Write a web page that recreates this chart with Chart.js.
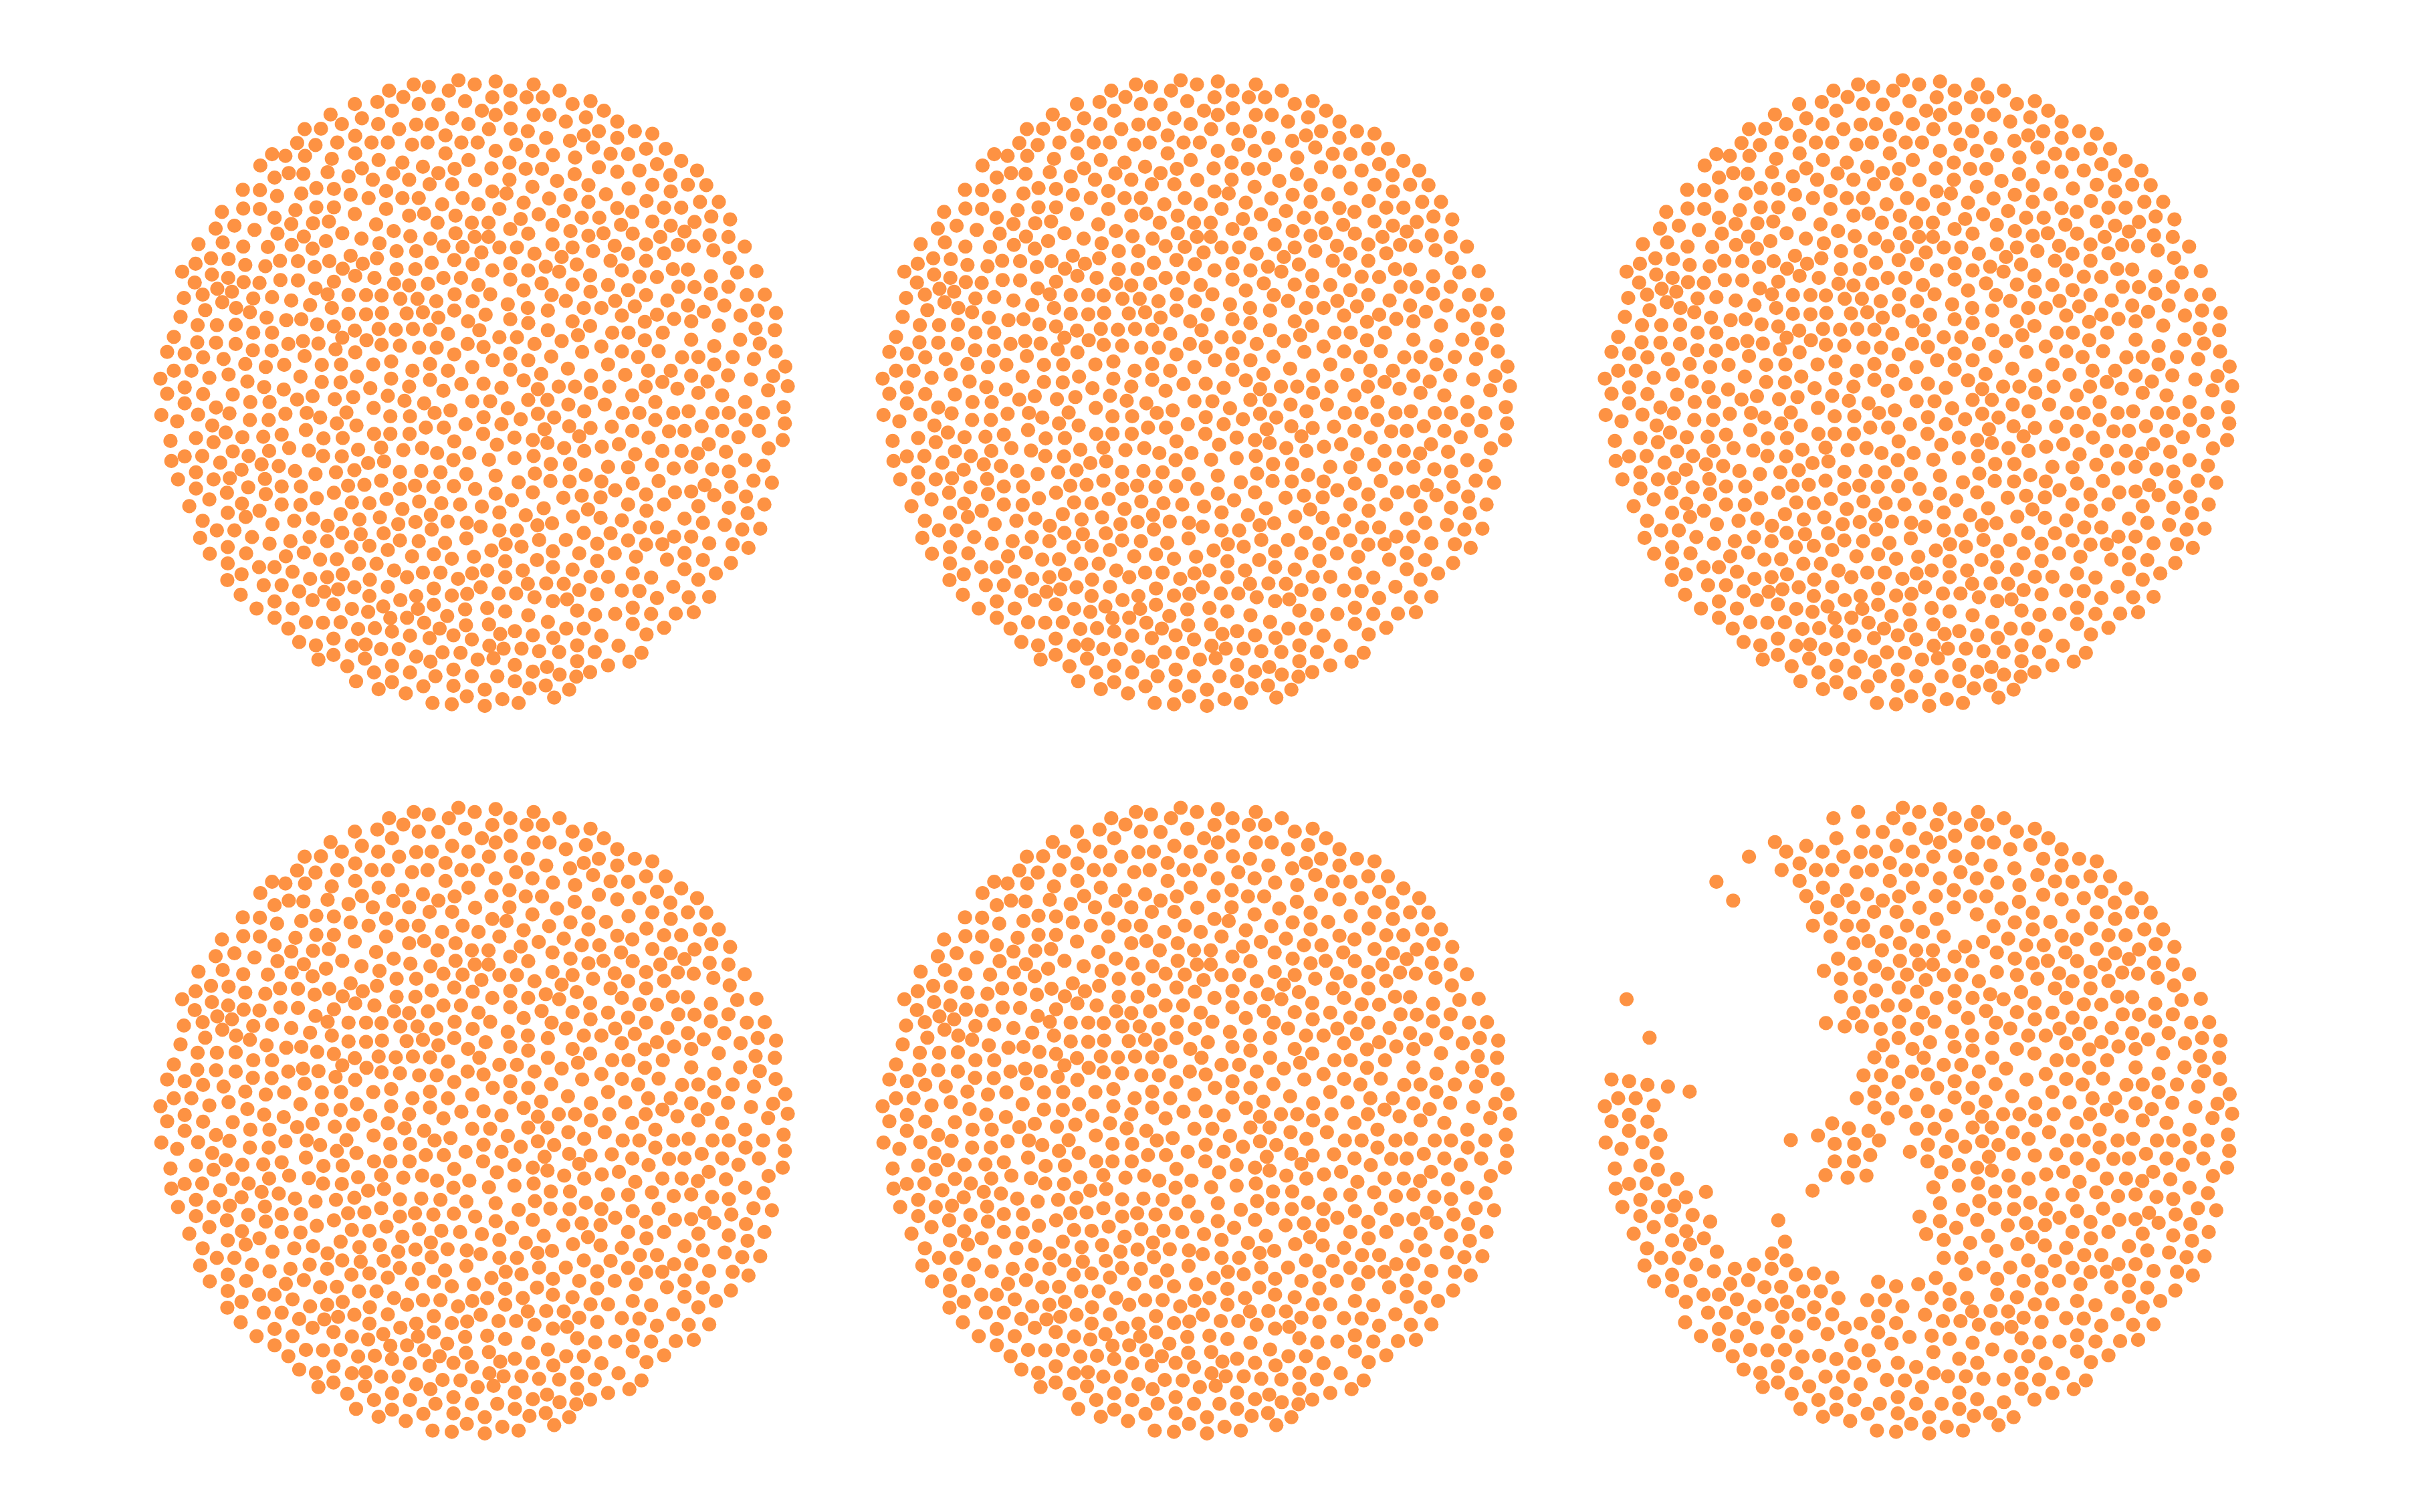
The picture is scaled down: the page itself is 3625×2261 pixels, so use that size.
<!DOCTYPE html>
<html>
<head>
<meta charset="utf-8">
<style>
html,body{margin:0;padding:0;background:#fff;width:3625px;height:2261px;overflow:hidden}
canvas{position:absolute}
</style>
<script src="https://cdn.jsdelivr.net/npm/chart.js@4/dist/chart.umd.min.js"></script>
</head>
<body>
<script>
// Points present in all six panels, read as x,y pairs from the picture.
const sharedDots = [
745,32,834,35,925,42,638,42,784,42,579,57,722,57,869,57,987,57,826,73,908,73,947,73,1061,82,650,89,697,90,761,82,1018,89,586,105,801,105,870,99,1093,105,834,115,925,115,963,115,439,114,514,123,730,123,1050,121,1125,131,466,137,553,137,644,138,681,137,769,137,1002,131,377,149,603,149,818,149,870,148,911,154,1167,154,1209,160,1081,154,498,165,714,164,955,170,1125,170,
455,181,537,181,576,181,634,186,671,181,752,181,791,181,1012,177,883,186,1067,193,1194,196,1241,196,834,201,922,201,498,207,714,207,299,209,971,211,1109,208,1151,209,1024,217,554,223,769,223,611,229,867,229,1278,225,660,239,1220,233,514,243,736,244,824,243,906,244,945,244,1081,240,1125,251,1178,248,1316,248,339,254,589,255,697,254,1023,257,1252,259,
627,270,785,271,867,270,981,273,540,270,676,281,730,281,1056,283,1209,282,1294,282,1338,283,922,287,1152,291,572,297,826,298,1253,298,1013,306,1098,305,530,314,611,314,650,314,755,314,962,315,1195,321,1056,323,1323,323,1368,323,706,329,793,329,572,340,843,340,1125,338,1237,337,1278,337,1161,347,997,345,627,356,663,351,738,356,937,353,1040,361,1082,361,1350,358,894,364,1395,365,
695,373,777,373,817,373,1209,370,1310,371,970,378,1134,378,1253,380,869,388,590,393,1013,393,1286,394,738,398,912,399,1056,404,1092,398,1162,399,1346,403,1391,407,630,405,784,407,817,407,678,411,1228,407,556,422,709,429,755,431,843,432,885,432,970,425,1018,432,1119,428,1194,425,1270,426,1308,429,1430,430,597,441,644,441,800,444,1067,441,1355,439,1151,447,1237,446,927,447,
1394,457,735,462,681,469,779,472,869,470,1194,464,1109,464,1028,473,954,478,597,484,642,484,826,487,912,487,1136,487,1258,484,1294,485,986,490,1458,489,84,490,1412,492,1060,499,1349,501,709,505,751,505,1178,502,1220,503,869,509,627,523,672,519,793,522,944,518,1018,521,1103,522,1271,526,1310,527,1391,526,901,535,1061,538,1151,534,
561,547,736,544,821,544,968,546,1194,546,1349,543,1435,546,1478,545,606,555,647,555,692,561,1002,560,779,561,1120,560,1245,559,863,568,911,577,1167,573,1294,571,1381,571,139,582,735,583,959,583,1045,577,1087,577,1461,583,810,593,1136,595,1220,593,1332,586,1505,589,697,600,1420,595,869,604,1261,603,768,609,912,613,1018,609,1191,610,1302,609,1060,620,1368,619,
677,629,795,630,959,630,1456,626,1502,630,720,639,1113,636,1152,636,1234,636,843,647,885,647,1191,654,1302,653,1419,653,767,663,992,656,927,663,1466,662,805,670,1357,668,651,672,693,672,1087,669,1136,681,1224,680,1041,682,48,682,1504,681,90,686,735,688,869,686,134,695,1175,694,1280,695,1319,694,183,699,967,693,1401,694,912,702,1452,699,827,702,
235,711,677,711,1103,712,1357,712,778,718,1527,717,1007,722,64,727,106,727,635,727,720,727,869,725,1199,727,1253,727,943,735,1144,737,1302,739,1390,738,149,744,32,746,1062,739,1498,740,677,749,901,750,1233,754,1341,753,1445,748,752,759,805,758,985,765,1024,765,1106,765,1193,765,90,767,848,768,1533,764,1269,770,935,771,1486,774,709,775,1062,780,48,782,134,783,1319,780,1161,786,1376,786,576,787,
912,797,958,797,616,799,821,800,778,800,1216,802,90,805,1431,802,663,805,1008,808,1095,808,1523,814,165,815,542,816,863,817,1046,824,1138,828,1178,828,1296,824,1259,828,1353,828,1392,828,1474,828,477,827,122,832,34,833,688,828,935,830,582,836,629,836,974,839,805,838,1216,845,1432,845,894,843,72,848,848,855,1526,853,762,855,156,858,1010,860,1061,864,1112,861,951,867,667,863,1327,860,1161,871,1249,872,1286,871,1376,871,1464,871,
582,878,628,878,804,878,1415,886,117,888,879,887,1200,887,923,893,1521,893,56,895,159,898,958,900,1344,903,837,904,1129,903,1088,909,560,911,658,912,998,912,1279,919,205,920,613,917,1046,919,1233,919,1487,913,1385,921,1318,925,1168,927,90,932,132,931,925,931,879,936,1431,941,58,943,818,940,529,948,175,947,274,951,966,950,1012,950,1103,957,1151,958,1208,952,1302,957,1475,954,1260,961,1352,963,226,964,1392,968,117,970,928,973,1050,977,834,978,
74,987,198,984,159,987,965,991,1011,992,1087,992,1451,990,1224,991,889,994,1495,995,1162,997,242,1006,1334,1001,1398,1005,117,1009,785,1010,1120,1013,191,1019,923,1018,447,1019,1302,1016,1263,1018,834,1021,284,1022,1194,1023,1357,1025,996,1031,1040,1026,1085,1030,1433,1028,149,1035,873,1037,227,1045,1151,1047,1237,1047,1477,1047,101,1051,801,1052,1319,1051,1392,1055,949,1056,1055,1059,269,1062,1195,1062,193,1067,843,1066,1437,1068,463,1070,906,1073,1019,1076,236,1077,1085,1079,1286,1081,
133,1086,1136,1085,300,1094,1330,1091,969,1092,432,1098,1382,1096,1179,1102,1220,1102,1467,1105,843,1109,885,1109,167,1109,209,1109,1424,1107,467,1115,1045,1115,1109,1116,251,1125,389,1125,127,1127,1261,1124,1302,1124,343,1135,431,1135,938,1132,1002,1132,1151,1133,293,1141,1345,1140,1077,1141,489,1149,532,1146,1194,1143,1233,1142,1401,1142,193,1149,896,1148,1439,1151,576,1156,824,1157,971,1159,150,1165,237,1164,375,1162,1034,1164,1119,1164,1286,1163,332,1171,686,1166,782,1172,1170,1172,729,1177,414,1179,454,1178,857,1183,1077,1182,1244,1179,1330,1180,193,1188,507,1189,549,1189,1397,1187,
268,1197,305,1197,971,1197,1018,1203,1286,1202,591,1205,814,1205,899,1205,348,1208,702,1210,660,1210,468,1214,1162,1212,1361,1212,226,1214,431,1221,857,1221,1061,1220,1103,1220,1206,1222,390,1225,533,1227,744,1225,1319,1227,911,1237,955,1236,997,1237,279,1240,322,1240,576,1244,496,1245,798,1245,1259,1244,457,1250,686,1248,1034,1252,1136,1253,1178,1254,364,1255,224,1263,841,1260,883,1260,1077,1262,532,1266,644,1266,729,1265,1345,1268,1296,1269,927,1269,1220,1271,1005,1274,971,1278,606,1276,305,1279,396,1276,686,1287,446,1286,
1162,1294,1029,1301,262,1296,348,1296,565,1291,490,1297,761,1298,814,1295,857,1303,1120,1309,1072,1311,1206,1309,1265,1308,1308,1305,718,1314,912,1312,305,1318,622,1318,380,1329,421,1330,463,1329,663,1330,959,1328,818,1334,1162,1333,338,1344,505,1345,545,1343,1003,1344,1045,1344,1237,1342,880,1350,586,1351,733,1360,1195,1358,1087,1361,446,1368,629,1361,923,1360,676,1367,777,1370,364,1376,404,1384,490,1385,819,1385,1029,1384,1128,1385,560,1393,602,1393,853,1392,896,1392,938,1398,986,1400,1071,1400,707,1401,750,1402,1183,1402,446,1407,644,1411,521,1416,410,1418,791,1418,1029,1422,1154,1423,
479,1434,586,1433,880,1431,1103,1432,733,1442,543,1449,629,1449,923,1447,1060,1448,987,1454,838,1458,777,1458,690,1458,500,1470,586,1472,880,1470,733,1481,954,1480,661,1482,915,1487,1010,1490,554,1489,808,1490,619,1499,765,1506,974,1509,850,1513,683,1522,729,1525,889,1522,808,1529
];
// Points present only in the five full panels (missing from the sixth).
const fullPanelDots = [
674,48,613,72,497,89,551,84,416,148,1045,164,359,182,403,187,331,213,378,213,442,220,271,236,374,256,432,252,305,265,482,262,229,294,270,295,405,290,447,292,860,303,487,306,369,303,311,309,901,325,230,339,270,340,405,336,447,336,355,343,179,347,497,352,305,361,435,370,397,374,345,376,548,377,209,380,164,387,257,390,467,398,312,399,375,406,513,411,181,420,428,417,123,424,230,430,289,431,346,426,396,435,487,452,153,458,195,460,550,458,318,464,361,465,436,465,992,455,235,474,116,471,516,471,283,477,401,479,468,483,155,497,498,500,194,505,544,505,319,510,361,511,447,514,114,516,231,515,269,517,591,519,168,531,403,530,203,538,133,545,432,544,482,546,524,546,254,554,299,551,88,553,345,559,180,563,390,570,442,577,213,577,246,587,621,590,660,587,482,591,524,592,562,589,80,598,286,600,333,606,369,604,407,616,121,618,167,618,212,617,447,621,554,627,595,629,636,627,497,631,254,636,299,636,1031,642,64,646,467,648,525,654,120,659,165,660,373,656,212,663,338,663,410,662,561,665,605,667,253,678,298,679,451,676,498,683,377,692,584,705,328,713,464,712,541,712,418,713,284,718,195,736,367,741,502,741,584,746,418,754,463,755,240,753,280,766,627,765,534,769,327,772,205,784,396,788,359,796,449,795,493,790,247,802,293,802,726,822,382,828,331,830,197,829,414,839,246,845,291,845,454,853,501,858,710,863,380,869,188,875,543,878,322,880,1034,884,228,886,278,885,422,889,468,888,735,896,340,912,505,916,292,919,387,918,694,924,771,924,243,931,421,931,466,932,733,941,567,944,315,955,496,965,354,967,605,969,656,967,702,970,452,970,403,974,764,974,282,986,560,990,641,1002,734,1003,481,1002,520,1000,322,1004,368,1004,685,1005,605,1010,406,1032,573,1034,651,1040,322,1047,367,1048,490,1042,532,1044,704,1044,749,1047,611,1058,679,1072,557,1078,397,1081,352,1086,508,1083,642,1089,719,1088,765,1091,601,1094,934,1097,798,1100,681,1107,511,1118,566,1116,764,1128,605,1133,650,1135,713,1139,858,1142,634,1171,933,1180,778,1212,622,1221,192,1228,424,1256,766,1261,648,1297,529,1304,582,1319,763,1336,700,1344,845,1357,972,1366,523,1382,829,1415,678,1423,957,1436,1027,1459
];
const panelLefts = [220, 1300, 2380, 220, 1300, 2380];
const panelTops = [100, 100, 100, 1188, 1188, 1188];
const dotColor = 'rgb(253,146,67)';

function toPoints(flat){
  const out = [];
  for (let i = 0; i < flat.length; i += 2) out.push({x: flat[i], y: flat[i + 1]});
  return out;
}
panelLefts.forEach((left, i) => {
  const c = document.createElement('canvas');
  c.width = 980; c.height = 980;
  c.style.left = left + 'px';
  c.style.top = panelTops[i] + 'px';
  c.style.width = '980px'; c.style.height = '980px';
  document.body.appendChild(c);
  const data = i === 5 ? toPoints(sharedDots) : toPoints(sharedDots.concat(fullPanelDots));
  new Chart(c, {
    type: 'scatter',
    data: {datasets: [{data, backgroundColor: dotColor, borderWidth: 0, pointRadius: 10.6, pointHoverRadius: 10.6, clip: false}]},
    options: {
      responsive: false, animation: false, devicePixelRatio: 1,
      layout: {padding: 0, autoPadding: false},
      plugins: {legend: {display: false}, tooltip: {enabled: false}},
      scales: {
        x: {type: 'linear', display: false, min: 0, max: 1568},
        y: {type: 'linear', display: false, min: 0, max: 1568, reverse: true}
      }
    }
  });
});
</script>
</body>
</html>
